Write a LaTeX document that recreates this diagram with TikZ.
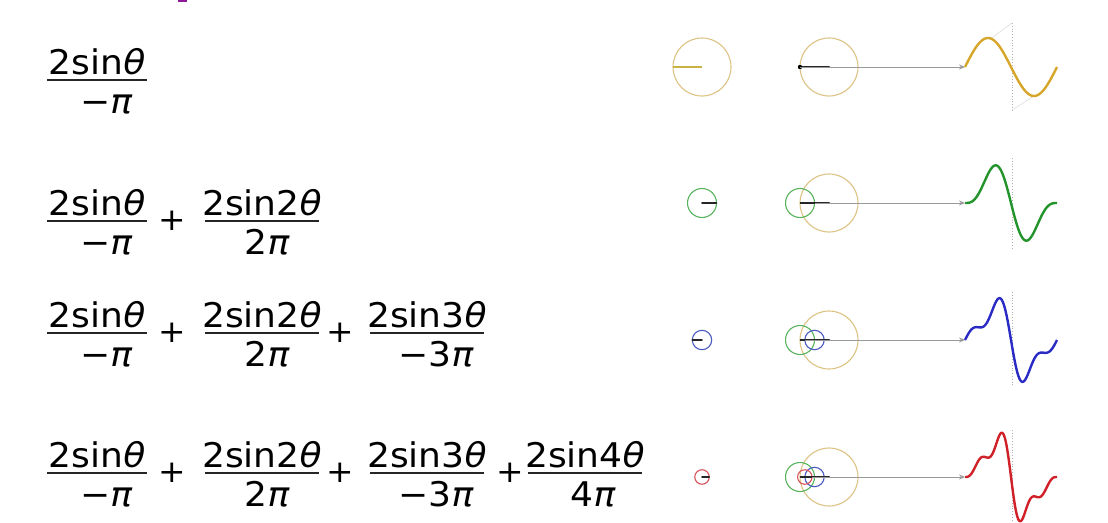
\documentclass[tikz,border=0pt]{standalone}
\usepackage{fontspec}
\setmainfont{DejaVu Sans}[FakeStretch=1.06]
\usetikzlibrary{arrows.meta}
\definecolor{gldw}{HTML}{D6A62A}
\definecolor{gldc}{HTML}{DCC384}
\definecolor{gldp}{HTML}{C9B245}
\definecolor{grnw}{HTML}{23942B}
\definecolor{grnc}{HTML}{58B45E}
\definecolor{bluw}{HTML}{2A2AC4}
\definecolor{bluc}{HTML}{4A5AC0}
\definecolor{redw}{HTML}{D02028}
\definecolor{redc}{HTML}{D8505A}
\definecolor{purp}{HTML}{8E1A98}
% #1 name, #2 centre x, #3 bar y, #4 half width, #5 numerator, #6 denominator, #7 denominator shift
\newcommand{\myfrac}[7]{%
  \node[numtxt] (#1n) at (#2,#3-6) {#5};
  \node[numtxt] (#1d) at (#2+#7,#3+33) {#6};
  \draw[fracbar] (#2-#4,#3) -- (#2+#4,#3);
}
\newcommand{\thet}{{\itshape θ}}
\newcommand{\pii}{{\itshape π}}
\begin{document}
\begin{tikzpicture}[x=1pt,y=-1pt,
  numtxt/.style={anchor=base,inner sep=0pt,font=\fontsize{34}{38}\selectfont},
  plustxt/.style={anchor=center,inner sep=0pt,font=\fontsize{31}{34}\selectfont},
  fracbar/.style={line width=2.4pt,black!85},
  ring/.style={line width=1.1pt},
  phasor/.style={line width=2.2pt,black!85,line cap=round},
  guide/.style={->,>={Stealth[length=6pt,width=5pt]},gray!80,line width=0.9pt},
  wave/.style={line width=2.4pt,line join=round},
  dotv/.style={gray!60,dotted,line width=0.8pt},
  faint/.style={gray!30,line width=0.5pt}]
\useasboundingbox (0,0) rectangle (1108,522);
\clip (0,0) rectangle (1108,522);
\fill[purp] (178,0) rectangle (187,2);

% ---------- formulas ----------
% row 1
\myfrac{a1}{97}{80}{50}{2sin\thet}{−\pii}{9}
% row 2
\myfrac{b1}{97}{221}{50}{2sin\thet}{−\pii}{9}
\node[plustxt] (bp1) at (172,221) {+};
\myfrac{b2}{262}{221}{57}{2sin2\thet}{2\pii}{5}
% row 3
\myfrac{c1}{97}{333}{50}{2sin\thet}{−\pii}{9}
\node[plustxt] (cp1) at (172,333) {+};
\myfrac{c2}{262}{333}{57}{2sin2\thet}{2\pii}{5}
\node[plustxt] (cp2) at (340,333) {+};
\myfrac{c3}{427}{333}{57}{2sin3\thet}{−3\pii}{9}
% row 4
\myfrac{d1}{97}{473}{50}{2sin\thet}{−\pii}{9}
\node[plustxt] (dp1) at (172,473) {+};
\myfrac{d2}{262}{473}{57}{2sin2\thet}{2\pii}{5}
\node[plustxt] (dp2) at (340,473) {+};
\myfrac{d3}{427}{473}{57}{2sin3\thet}{−3\pii}{9}
\node[plustxt] (dp3) at (510,473) {+};
\myfrac{d4}{585}{473}{57}{2sin4\thet}{4\pii}{8}

% ---------- row 1 graphics ----------
\draw[ring,gldc] (702,67) circle (29);
\draw[gldp,line width=2.6pt] (702,67) -- (673,67);
\draw[ring,gldc] (829,67) circle (29);
\draw[phasor] (829,67) -- (800,67);
\fill[black] (800,67) circle (2.2);
\coordinate (t1) at (800,67);
\coordinate (w1) at (965,67);
\draw[guide] (t1) -- (w1);
\draw[dotv] (1012,23) -- (1012,110);
\draw[faint] (990,39) -- (1012,23);
\draw[faint] (1034,96) -- (1012,110);
\draw[wave,gldw] plot[domain=0:360,samples=120]
  ({965+\x/360*92},{67-29*sin(\x)});

% ---------- row 2 graphics ----------
\draw[ring,grnc] (702,203) circle (14.5);
\draw[phasor,line width=1.6pt] (702,203) -- (716.5,203);
\draw[ring,gldc] (829,203) circle (29);
\draw[ring,grnc] (800,203) circle (14.5);
\draw[phasor] (829,203) -- (800,203) -- (814.5,203);
\coordinate (t2) at (814.5,203);
\coordinate (w2) at (965,203);
\draw[guide] (t2) -- (w2);
\draw[dotv] (1012,158) -- (1012,248);
\draw[wave,grnw] plot[domain=0:360,samples=150]
  ({965+\x/360*92},{203-29*(sin(\x)-sin(2*\x)/2)});

% ---------- row 3 graphics ----------
\draw[ring,bluc] (702,340) circle (9.7);
\draw[phasor,line width=1.6pt] (702,340) -- (692.3,340);
\draw[ring,gldc] (829,340) circle (29);
\draw[ring,grnc] (800,340) circle (14.5);
\draw[ring,bluc] (814.5,340) circle (9.7);
\draw[phasor] (829,340) -- (800,340) -- (814.5,340) -- (804.8,340);
\coordinate (t3) at (804.8,340);
\coordinate (w3) at (965,340);
\draw[guide] (t3) -- (w3);
\draw[dotv] (1012,292) -- (1012,385);
\draw[wave,bluw] plot[domain=0:360,samples=180]
  ({965+\x/360*92},{340-29*(sin(\x)-sin(2*\x)/2+sin(3*\x)/3)});

% ---------- row 4 graphics ----------
\draw[ring,redc] (702,477) circle (7.25);
\draw[phasor,line width=1.6pt] (702,477) -- (709.25,477);
\draw[ring,gldc] (829,477) circle (29);
\draw[ring,grnc] (800,477) circle (14.5);
\draw[ring,bluc] (814.5,477) circle (9.7);
\draw[ring,redc] (804.8,477) circle (7.25);
\draw[phasor] (829,477) -- (800,477) -- (814.5,477) -- (804.8,477) -- (812,477);
\coordinate (t4) at (812,477);
\coordinate (w4) at (965,477);
\draw[guide] (t4) -- (w4);
\draw[dotv] (1012,430) -- (1012,522);
\draw[wave,redw] plot[domain=0:360,samples=200]
  ({965+\x/360*92},{477-29*(sin(\x)-sin(2*\x)/2+sin(3*\x)/3-sin(4*\x)/4)});
\end{tikzpicture}
\end{document}
